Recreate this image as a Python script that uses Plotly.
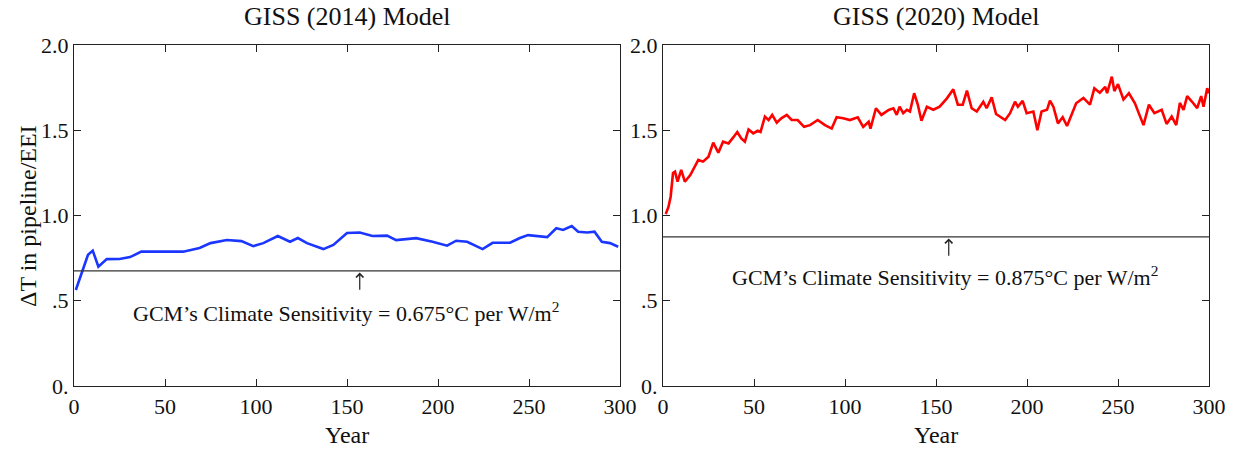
import plotly.graph_objects as go

# ---- data ----
years_2014 = [1, 4.2, 7, 7.7, 10.3, 11.9, 13.4, 18, 25, 30.8, 37, 47, 60, 69, 75, 84, 92, 98.5, 104,
              112, 118.7, 123, 128, 137, 142.5, 150, 157, 164, 172, 177, 188, 197, 205, 210, 216,
              224.5, 230, 239.6, 245, 249.5, 260, 265, 268.7, 273.5, 277, 282, 286, 290, 294.5, 299]
dt_2014 = [0.563, 0.663, 0.758, 0.77, 0.794, 0.75, 0.70, 0.744, 0.745, 0.756, 0.788, 0.788, 0.788,
           0.81, 0.838, 0.856, 0.85, 0.82, 0.838, 0.88, 0.846, 0.868, 0.838, 0.803, 0.827, 0.897,
           0.90, 0.88, 0.882, 0.856, 0.867, 0.846, 0.823, 0.852, 0.846, 0.803, 0.84, 0.84, 0.868,
           0.885, 0.873, 0.925, 0.915, 0.938, 0.905, 0.90, 0.905, 0.846, 0.838, 0.817]

years_2020 = [1.5, 3, 4.2, 5.5, 6.6, 8, 10, 12, 15, 19.4, 22, 25, 27.6, 30.4, 33, 36, 38.6, 40.8, 43,
              45, 47, 49.6, 52, 53.6, 56, 58, 60, 62.5, 65, 68, 70.7, 74, 77.5, 80.8, 85, 89, 92.7,
              95.4, 99, 102.7, 107, 110, 113, 114, 117, 120, 124, 126.6, 128.4, 130, 132, 134,
              135.7, 138, 140, 142, 145, 148.5, 152, 156, 159.5, 162, 164.7, 167, 169.6, 172.4,
              176, 177.8, 180.6, 183, 188, 190.7, 193.4, 195, 197.6, 199.8, 203.5, 205.7, 208,
              211, 212.6, 214.5, 217, 219.6, 222, 227, 231, 234.6, 237, 240, 243, 244, 246.6,
              248, 250, 253, 256, 259.3, 264, 267, 270, 274, 276.7, 279.5, 282, 284, 286, 288,
              290.7, 293.5, 295.7, 297, 299, 300]
dt_2020 = [1.009, 1.05, 1.11, 1.249, 1.257, 1.198, 1.267, 1.198, 1.237, 1.326, 1.316, 1.345, 1.427,
           1.368, 1.433, 1.423, 1.458, 1.49, 1.452, 1.433, 1.505, 1.482, 1.497, 1.49, 1.58, 1.56,
           1.59, 1.545, 1.57, 1.59, 1.56, 1.56, 1.52, 1.53, 1.56, 1.53, 1.51, 1.576, 1.57, 1.56,
           1.576, 1.52, 1.55, 1.51, 1.629, 1.59, 1.619, 1.629, 1.59, 1.638, 1.60, 1.62, 1.61,
           1.717, 1.65, 1.556, 1.638, 1.62, 1.638, 1.687, 1.74, 1.65, 1.65, 1.732, 1.629, 1.61,
           1.667, 1.629, 1.693, 1.595, 1.56, 1.60, 1.667, 1.638, 1.672, 1.60, 1.61, 1.50, 1.61,
           1.62, 1.673, 1.638, 1.54, 1.576, 1.525, 1.658, 1.69, 1.65, 1.746, 1.72, 1.755, 1.717,
           1.814, 1.73, 1.77, 1.68, 1.717, 1.658, 1.53, 1.65, 1.60, 1.62, 1.537, 1.58, 1.53,
           1.66, 1.62, 1.70, 1.667, 1.63, 1.70, 1.638, 1.747, 1.717]

sens_2014 = 0.675
sens_2020 = 0.875
x_span = [0, 300]

titles = ["GISS (2014) Model", "GISS (2020) Model"]
x_title = "Year"
y_title = "ΔT in pipeline/EEI"
x_ticks = [0, 50, 100, 150, 200, 250, 300]
y_tickvals = [0, 0.5, 1.0, 1.5, 2.0]
y_ticktext = ["0.", ".5", "1.0", "1.5", "2.0"]

W, H = 1235, 449
FONT = "Liberation Serif, Times New Roman, serif"

fig = go.Figure()
fig.add_trace(go.Scatter(x=years_2014, y=dt_2014, mode="lines",
                         line=dict(color="#1a36ff", width=2.6), xaxis="x", yaxis="y"))
fig.add_trace(go.Scatter(x=x_span, y=[sens_2014] * 2, mode="lines",
                         line=dict(color="#333333", width=1.2), xaxis="x", yaxis="y"))
fig.add_trace(go.Scatter(x=years_2020, y=dt_2020, mode="lines",
                         line=dict(color="#ff0000", width=2.6), xaxis="x2", yaxis="y2"))
fig.add_trace(go.Scatter(x=x_span, y=[sens_2020] * 2, mode="lines",
                         line=dict(color="#333333", width=1.2), xaxis="x2", yaxis="y2"))

dom1 = [74 / W, 620 / W]
dom2 = [663 / W, 1209 / W]
ydom = [1 - 386 / H, 1 - 45 / H]

axis_common = dict(showgrid=False, zeroline=False, showline=True, linecolor="#222222",
                   linewidth=1.2, mirror="ticks", ticks="inside", ticklen=7, automargin=False,
                   tickcolor="#222222", tickfont=dict(family=FONT, size=22, color="#111111"))

fig.update_layout(
    template="none",
    width=W, height=H, margin=dict(l=0, r=0, t=0, b=0, pad=0),
    paper_bgcolor="white", plot_bgcolor="white", showlegend=False,
    xaxis=dict(domain=dom1, range=x_span, tickvals=x_ticks, anchor="y", **axis_common),
    yaxis=dict(domain=ydom, range=[0, 2], tickvals=y_tickvals, ticktext=y_ticktext,
               anchor="x", **axis_common),
    xaxis2=dict(domain=dom2, range=x_span, tickvals=x_ticks, anchor="y2", **axis_common),
    yaxis2=dict(domain=ydom, range=[0, 2], tickvals=y_tickvals, ticktext=y_ticktext,
                anchor="x2", **axis_common),
)

ann = []
for dom, t in zip([dom1, dom2], titles):
    cx = (dom[0] + dom[1]) / 2
    ann.append(dict(text=t, x=cx, y=1 - 17 / H, xref="paper", yref="paper", showarrow=False,
                    xanchor="center", yanchor="middle",
                    font=dict(family=FONT, size=26, color="#111111")))
    ann.append(dict(text=x_title, x=cx, y=1 - 435 / H, xref="paper", yref="paper",
                    xanchor="center", yanchor="middle",
                    showarrow=False, font=dict(family=FONT, size=24, color="#111111")))
ann.append(dict(text=y_title, x=28 / W, y=1 - 216 / H, xref="paper", yref="paper",
                xanchor="center", yanchor="middle",
                textangle=-90, showarrow=False, font=dict(family=FONT, size=24, color="#111111")))

# sensitivity labels and arrows
for xr, yr, sens, tx, ty in [("x", "y", sens_2014, 149.5, 0.434), ("x2", "y2", sens_2020, 155, 0.645)]:
    ann.append(dict(text="GCM’s Climate Sensitivity = %.3f°C per W/m<sup>2</sup>" % sens,
                    x=tx, y=ty, xref=xr, yref=yr, showarrow=False,
                    xanchor="center", yanchor="middle",
                    font=dict(family=FONT, size=22, color="#111111")))
    ann.append(dict(text="", x=157, y=sens - 0.01, ax=157, ay=sens - 0.12, xref=xr, yref=yr,
                    axref=xr, ayref=yr, showarrow=True, arrowhead=4, arrowsize=1.2,
                    arrowwidth=1.2, arrowcolor="#222222"))

fig.update_layout(annotations=ann)
fig.write_html("out.html")
